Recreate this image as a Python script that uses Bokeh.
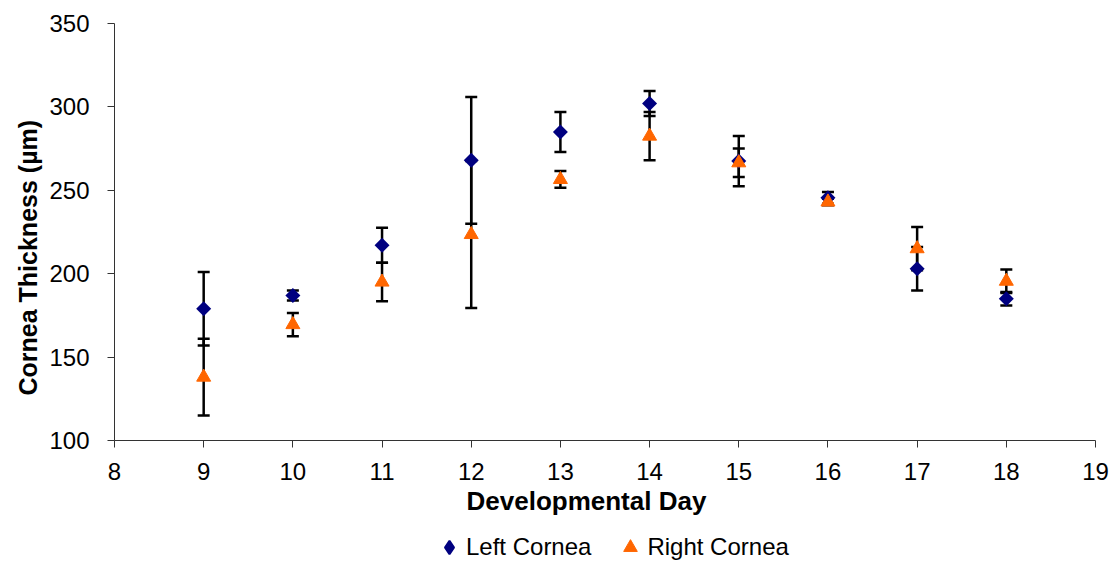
import math
from bokeh.plotting import figure
from bokeh.layouts import column
from bokeh.models import (ColumnDataSource, Whisker, TeeHead, Range1d, Legend, LegendItem,
                          FixedTicker, Title)
from bokeh.embed import file_html
from bokeh.resources import INLINE

days = [9, 10, 11, 12, 13, 14, 15, 16, 17, 18]
left_mean = [179, 187, 217, 268, 285, 302, 267.5, 245.5, 203, 185]
left_err = [22, 3, 10.5, 38, 12, 7.5, 15, 3.5, 13, 4]
right_mean = [138, 169.5, 195, 223.5, 256.5, 282.5, 266.5, 243, 215, 195.5]
right_err = [23, 7, 11.5, 44, 5, 14.5, 8.5, 2, 13, 7]

FONT = "Liberation Sans"
NAVY = "#000080"
ORANGE = "#FF6600"

lsrc = ColumnDataSource(dict(x=days, y=left_mean,
                             up=[m + e for m, e in zip(left_mean, left_err)],
                             lo=[m - e for m, e in zip(left_mean, left_err)]))
rsrc = ColumnDataSource(dict(x=days, y=right_mean,
                             up=[m + e for m, e in zip(right_mean, right_err)],
                             lo=[m - e for m, e in zip(right_mean, right_err)]))

p = figure(frame_width=981, frame_height=417, output_backend="svg", toolbar_location=None,
           x_range=Range1d(8, 19), y_range=Range1d(100, 350),
           min_border_left=114, min_border_top=23, min_border_right=16, min_border_bottom=90)
p.outline_line_color = None
p.xgrid.visible = False
p.ygrid.visible = False

for ax in (p.xaxis[0], p.yaxis[0]):
    ax.axis_line_color = "#333333"
    ax.major_tick_line_color = "#333333"
    ax.minor_tick_line_color = None
    ax.major_tick_in = 0
    ax.major_tick_out = 7
    ax.major_label_text_font = FONT
    ax.major_label_text_font_size = "24px"
    ax.major_label_text_color = "black"

p.xaxis.ticker = FixedTicker(ticks=list(range(8, 20)))
p.yaxis.ticker = FixedTicker(ticks=list(range(100, 351, 50)))
p.xaxis.major_label_standoff = 15
p.yaxis.major_label_standoff = 18

ytitle = Title(text="Cornea Thickness (µm)", align="left", offset=45,
               text_font=FONT, text_font_size="25px", text_font_style="bold",
               text_color="black", standoff=9)
p.add_layout(ytitle, "left")
xtitle = Title(text="Developmental Day", align="left", offset=352,
               text_font=FONT, text_font_size="26px", text_font_style="bold",
               text_color="black", standoff=2)
p.add_layout(xtitle, "below")

for src in (lsrc, rsrc):
    w = Whisker(base="x", upper="up", lower="lo", source=src, level="underlay",
                line_color="black", line_width=2.5,
                upper_head=TeeHead(size=12, line_width=2.5, line_color="black"),
                lower_head=TeeHead(size=12, line_width=2.5, line_color="black"))
    p.add_layout(w)

p.scatter("x", "y", source=lsrc, marker="square", size=10.6, angle=math.pi / 4,
          fill_color=NAVY, line_color=None)
p.scatter("x", "y", source=rsrc, marker="triangle", size=14,
          fill_color=ORANGE, line_color=ORANGE)

# legend strip below the chart (its own points fall outside its ranges and are clipped)
lg = figure(width=1111, height=32, output_backend="svg", toolbar_location=None,
            x_range=Range1d(0, 1), y_range=Range1d(0, 1),
            x_axis_location=None, y_axis_location=None, min_border=0)
lg.outline_line_color = None
lg.grid.visible = False
ld_key = lg.scatter("x", "y", source=lsrc, marker="diamond", size=10,
                    fill_color=NAVY, line_color=NAVY, line_width=2)
rt_key = lg.scatter("x", "y", source=rsrc,
                    marker="triangle", size=14, fill_color=ORANGE, line_color=ORANGE)

legend = Legend(items=[LegendItem(label="Left Cornea", renderers=[ld_key]),
                       LegendItem(label="Right Cornea", renderers=[rt_key])],
                orientation="horizontal", location=(318, -2),
                label_text_font=FONT, label_text_font_size="24px", label_text_color="black",
                border_line_color=None, background_fill_alpha=0,
                glyph_width=34, glyph_height=34, label_standoff=-4, spacing=22,
                padding=0, margin=0)
lg.add_layout(legend, "center")

open("out.html", "w").write(file_html(column(p, lg, spacing=0), INLINE))
